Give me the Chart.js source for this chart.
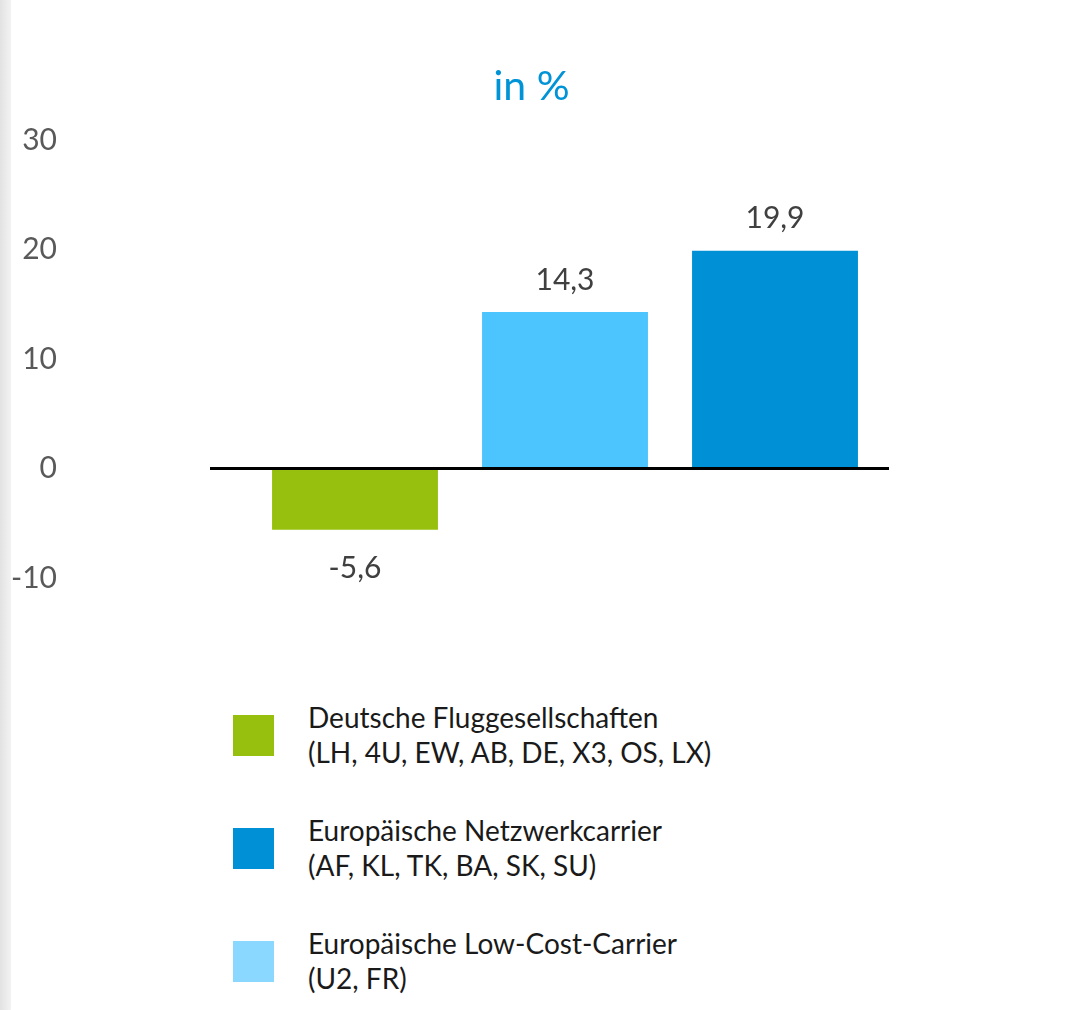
<!DOCTYPE html>
<html lang="de">
<head>
<meta charset="utf-8">
<title>Veränderung in %</title>
<script src="https://cdn.jsdelivr.net/npm/chart.js@4.4.1/dist/chart.umd.min.js"></script>
<style>
  html, body { margin: 0; padding: 0; background: #fff; }
  body { width: 1072px; height: 1010px; position: relative; overflow: hidden; font-family: Lato, sans-serif; }
  .sideShade { position: absolute; left: 0; top: 0; width: 11px; height: 100%;
    background: linear-gradient(to right, #e2e2e2, #f3f3f3); }
  #chartBox { position: absolute; left: 0; top: 0; width: 1072px; height: 640px; }
  #legend { position: absolute; left: 233px; top: 700px; display: flex; flex-direction: column; gap: 43px; }
  .legendRow { display: flex; align-items: center; }
  .legendSwatch { width: 41px; height: 41px; margin-right: 34px; flex: none; }
  .legendText { font-size: 28px; line-height: 35px; color: #1a1a1a; }
</style>
</head>
<body>
<div class="sideShade"></div>
<div id="chartBox"><canvas id="changeChart"></canvas></div>
<div id="legend"></div>

<script>
//Bar categories and values (percent)
const categories = ["Deutsche Fluggesellschaften", "Europäische Low-Cost-Carrier", "Europäische Netzwerkcarrier"];
const changeValues = [-5.6, 14.3, 19.9];
const barColors = ["#97c00e", "#4cc5ff", "#0090d5"];

//Y axis ticks
const yTicks = [-10, 0, 10, 20, 30];

//Legend entries
const legendNames = ["Deutsche Fluggesellschaften", "Europäische Netzwerkcarrier", "Europäische Low-Cost-Carrier"];
const legendCodes = ["(LH, 4U, EW, AB, DE, X3, OS, LX)", "(AF, KL, TK, BA, SK, SU)", "(U2, FR)"];
const legendColors = ["#97c00e", "#0090d5", "#8ad8ff"];

const chartFont = "Lato, sans-serif";

//Black zero line, a bit wider than the bars
const zeroLinePlugin = {
  id: "zeroLine",
  afterDatasetsDraw(chart) {
    const ctx = chart.ctx;
    const area = chart.chartArea;
    const y = chart.scales.y.getPixelForValue(0);
    ctx.save();
    ctx.strokeStyle = "#000";
    ctx.lineWidth = 3;
    ctx.beginPath();
    ctx.moveTo(area.left - 40, y);
    ctx.lineTo(area.right + 9, y);
    ctx.stroke();
    ctx.restore();
  }
};

//Value labels with decimal comma
const valueLabelPlugin = {
  id: "valueLabels",
  afterDatasetsDraw(chart) {
    const ctx = chart.ctx;
    const meta = chart.getDatasetMeta(0);
    const values = chart.data.datasets[0].data;
    ctx.save();
    ctx.fillStyle = "#404040";
    ctx.font = "30px " + chartFont;
    ctx.textAlign = "center";
    ctx.textBaseline = "middle";
    meta.data.forEach((bar, i) => {
      const v = values[i];
      const text = v.toFixed(1).replace(".", ",");
      const y = v >= 0 ? bar.y - 32 : bar.y + 38;
      ctx.fillText(text, bar.x, y);
    });
    ctx.restore();
  }
};

new Chart(document.querySelector("#changeChart"), {
  type: "bar",
  data: {
    labels: categories,
    datasets: [{
      data: changeValues,
      backgroundColor: barColors,
      borderWidth: 0,
      categoryPercentage: 1,
      barPercentage: 0.79
    }]
  },
  options: {
    responsive: true,
    maintainAspectRatio: false,
    animation: false,
    layout: { padding: { left: 0, right: 9, top: 0, bottom: 62 } },
    plugins: {
      legend: { display: false },
      tooltip: { enabled: false },
      title: {
        display: true,
        text: "in %",
        color: "#0093d6",
        font: { family: chartFont, size: 41, weight: "normal", lineHeight: 1.2 },
        padding: { top: 62, bottom: 29 }
      }
    },
    scales: {
      x: { display: false },
      y: {
        min: yTicks[0],
        max: yTicks[yTicks.length - 1],
        afterBuildTicks(scale) {
          scale.ticks = yTicks.map(v => ({ value: v }));
        },
        afterFit(scale) {
          // wide axis so labels sit far left of the bars; keep the big tick padding out of the vertical layout
          scale.width = 250;
          scale.paddingTop = 0;
          scale.paddingBottom = 0;
        },
        grid: { display: false, drawTicks: false },
        border: { display: false },
        ticks: {
          color: "#595959",
          font: { family: chartFont, size: 30 },
          padding: 193
        }
      },
      // empty spacer on the right so the plot stays left of centre
      spacer: {
        type: "linear",
        position: "right",
        grid: { display: false, drawTicks: false },
        border: { display: false },
        ticks: { display: false },
        afterFit(scale) {
          scale.width = 183;
          scale.paddingTop = 0;
          scale.paddingBottom = 0;
        }
      }
    }
  },
  plugins: [zeroLinePlugin, valueLabelPlugin]
});

//Legend built from the entries above
const legendBox = document.querySelector("#legend");
legendNames.forEach((name, i) => {
  const row = document.createElement("div");
  row.className = "legendRow";
  const swatch = document.createElement("div");
  swatch.className = "legendSwatch";
  swatch.style.background = legendColors[i];
  const text = document.createElement("div");
  text.className = "legendText";
  text.innerHTML = name + "<br>" + legendCodes[i];
  row.appendChild(swatch);
  row.appendChild(text);
  legendBox.appendChild(row);
});
</script>
</body>
</html>
